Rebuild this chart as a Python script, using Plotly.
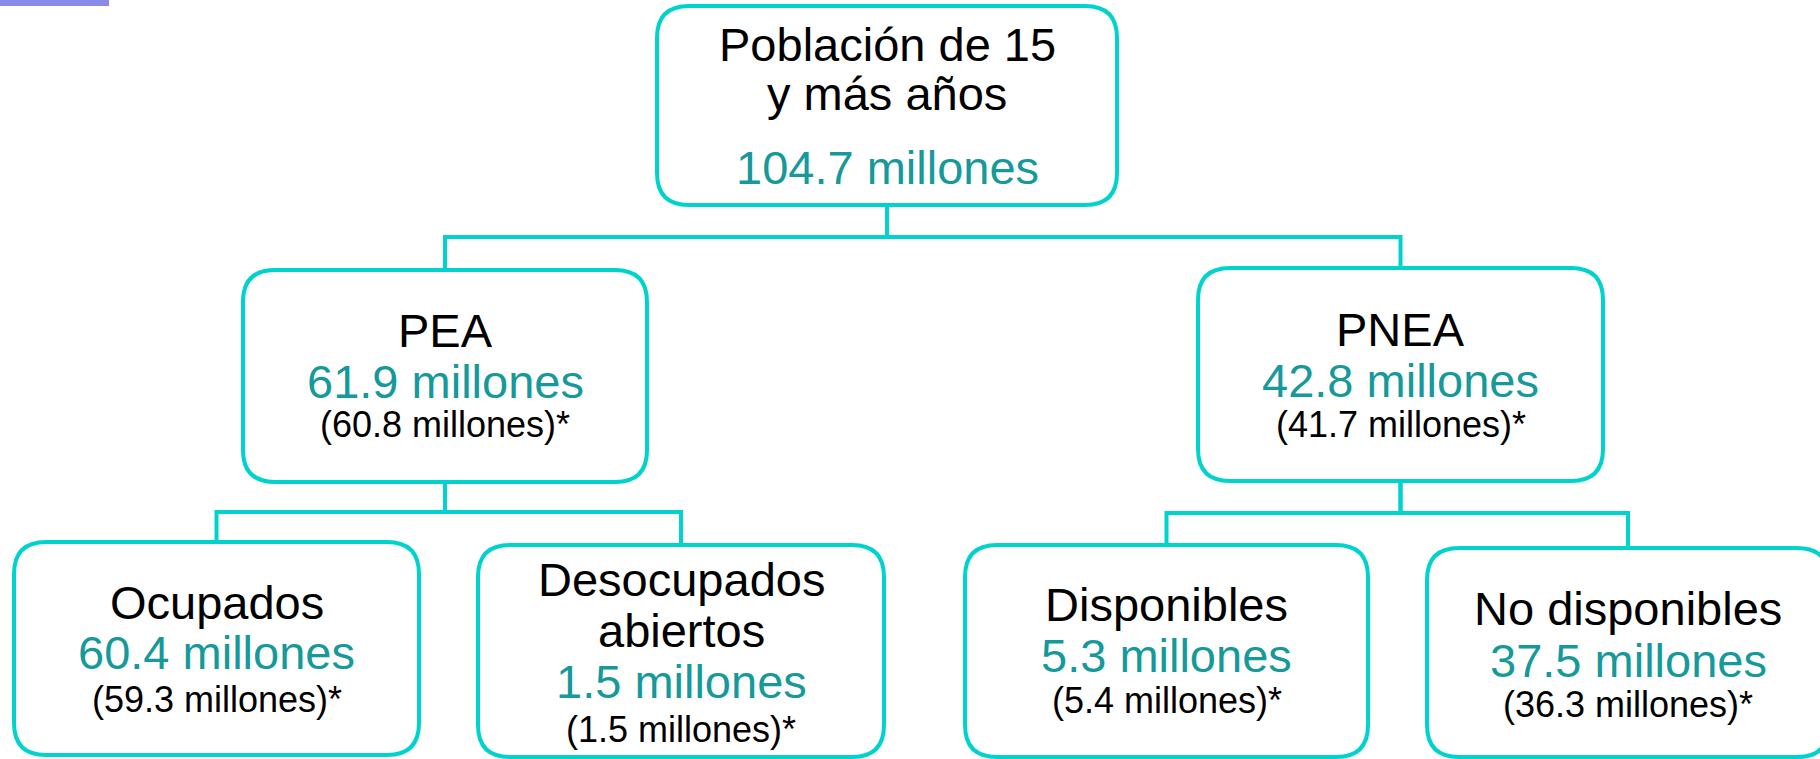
import plotly.graph_objects as go

# --- datos ---
etiquetas = [
    ["Población de 15", "y más años"],
    ["PEA"],
    ["PNEA"],
    ["Ocupados"],
    ["Desocupados", "abiertos"],
    ["Disponibles"],
    ["No disponibles"],
]
valores = [104.7, 61.9, 42.8, 60.4, 1.5, 5.3, 37.5]
valores_ajustados = [None, 60.8, 41.7, 59.3, 1.5, 5.4, 36.3]
padres = [None, 0, 0, 1, 1, 2, 2]

# --- geometría del diagrama (px) ---
W, H = 1820, 759
cajas = [  # x0, x1, y0, y1
    (657, 1117, 6, 205),
    (243, 647, 270, 482),
    (1198, 1603, 268, 481),
    (14, 419, 542, 755),
    (478, 884, 545, 757),
    (965, 1368, 545, 757),
    (1427, 1829, 548, 757),
]
# líneas base: etiqueta(s), valor, valor ajustado
bases = [
    [61, 110, 184],
    [347, 398, 437],
    [346, 397, 437],
    [619, 669, 712],
    [596, 647, 698, 742],
    [621, 672, 713],
    [625, 677, 717],
]
bus_y = {0: 237, 1: 512, 2: 513}

FUENTE = "Liberation Sans"
TAM_GRANDE = 47
TAM_CHICO = 36
C_BORDE = "#00d3cd"
C_VALOR = "#15999b"
RADIO = 32


def caja_redondeada(x0, x1, y0, y1, r):
    return (f"M {x0+r},{y0} L {x1-r},{y0} Q {x1},{y0} {x1},{y0+r} "
            f"L {x1},{y1-r} Q {x1},{y1} {x1-r},{y1} L {x0+r},{y1} "
            f"Q {x0},{y1} {x0},{y1-r} L {x0},{y0+r} Q {x0},{y0} {x0+r},{y0} Z")


fig = go.Figure()
shapes = []
annotations = []

# conectores en codo
for i, p in enumerate(padres):
    if p is None:
        continue
    px0, px1, _, py1 = cajas[p]
    cx0, cx1, cy0, _ = cajas[i]
    pcx = (px0 + px1) / 2
    ccx = (cx0 + cx1) / 2
    yb = bus_y[p]
    shapes.append(dict(
        type="path", xref="x", yref="y",
        path=f"M {pcx},{py1} L {pcx},{yb} L {ccx},{yb} L {ccx},{cy0}",
        line=dict(color=C_BORDE, width=4),
    ))

# cajas
for (x0, x1, y0, y1) in cajas:
    shapes.append(dict(
        type="path", xref="x", yref="y",
        path=caja_redondeada(x0, x1, y0, y1, RADIO),
        line=dict(color=C_BORDE, width=4), fillcolor="white",
    ))

# barra decorativa
shapes.append(dict(type="rect", xref="x", yref="y", x0=0, x1=109, y0=0, y1=6,
                   fillcolor="#8a8be8", line=dict(width=0)))


def texto(x, base, t, tam, color):
    annotations.append(dict(
        x=x, y=base - 0.3465 * tam, xref="x", yref="y",
        text=t, showarrow=False, xanchor="center", yanchor="middle",
        font=dict(family=FUENTE, size=tam, color=color),
    ))


for i, (x0, x1, y0, y1) in enumerate(cajas):
    cx = (x0 + x1) / 2
    b = bases[i]
    k = 0
    for linea in etiquetas[i]:
        texto(cx, b[k], linea, TAM_GRANDE, "black")
        k += 1
    texto(cx, b[k], f"{valores[i]:.1f} millones", TAM_GRANDE, C_VALOR)
    k += 1
    if valores_ajustados[i] is not None:
        texto(cx, b[k], f"({valores_ajustados[i]:.1f} millones)*", TAM_CHICO, "black")

fig.update_layout(
    width=W, height=H,
    margin=dict(l=0, r=0, t=0, b=0),
    paper_bgcolor="white", plot_bgcolor="white",
    xaxis=dict(range=[0, W], visible=False, fixedrange=True),
    yaxis=dict(range=[H, 0], visible=False, fixedrange=True),
    shapes=shapes, annotations=annotations,
    showlegend=False,
)

fig.write_html("out.html", config={"displayModeBar": False},
               post_script="document.body.style.margin='0';")
